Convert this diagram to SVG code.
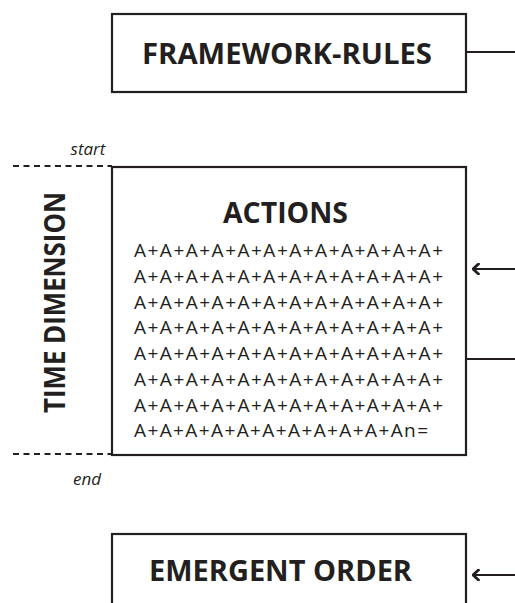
<svg xmlns="http://www.w3.org/2000/svg" width="515" height="603" viewBox="0 0 515 603">
<style>
.box{fill:#fff;stroke:#231f20;stroke-width:2.2}
.conn{fill:none;stroke:#231f20;stroke-width:2.2}
.dash{fill:none;stroke:#231f20;stroke-width:2;stroke-dasharray:6 4.5}
.h{font-family:"Open Sans","Noto Sans",sans-serif;font-weight:bold;fill:#231f20}
.t{font-family:"Open Sans","Noto Sans",sans-serif;font-size:19px;fill:#231f20}
.i{font-family:"Open Sans","Noto Sans",sans-serif;font-style:italic;font-size:17px;fill:#231f20}
</style>
<defs>
<marker id="ah" viewBox="0 0 12 12" refX="10.5" refY="6" markerWidth="12" markerHeight="12" markerUnits="userSpaceOnUse" orient="auto">
<polyline points="5,1 10.5,6 5,11" fill="none" stroke="#231f20" stroke-width="2.8" stroke-linecap="round" stroke-linejoin="round"/>
</marker>
</defs>
<g id="time">
<line class="dash" x1="13" y1="166" x2="112" y2="166"/>
<line class="dash" x1="13" y1="454" x2="112" y2="454"/>
<text class="i" x="88" y="155" text-anchor="middle">start</text>
<text class="i" x="87" y="485" text-anchor="middle">end</text>
<text class="h" font-size="29" transform="translate(65,302.5) rotate(-90)" text-anchor="middle" textLength="221" lengthAdjust="spacingAndGlyphs">TIME DIMENSION</text>
</g>
<g id="framework">
<rect class="box" x="112" y="14" width="354" height="78"/>
<text class="h" font-size="29" x="142" y="64" textLength="290" lengthAdjust="spacingAndGlyphs">FRAMEWORK-RULES</text>
</g>
<g id="actions">
<rect class="box" x="112" y="167" width="354" height="288"/>
<text class="h" font-size="28" x="223" y="223" textLength="125" lengthAdjust="spacingAndGlyphs">ACTIONS</text>
<text class="t" x="134" y="257" textLength="309" lengthAdjust="spacing">A+A+A+A+A+A+A+A+A+A+A+A+</text>
<text class="t" x="134" y="283" textLength="309" lengthAdjust="spacing">A+A+A+A+A+A+A+A+A+A+A+A+</text>
<text class="t" x="134" y="309" textLength="309" lengthAdjust="spacing">A+A+A+A+A+A+A+A+A+A+A+A+</text>
<text class="t" x="134" y="334" textLength="309" lengthAdjust="spacing">A+A+A+A+A+A+A+A+A+A+A+A+</text>
<text class="t" x="134" y="360" textLength="309" lengthAdjust="spacing">A+A+A+A+A+A+A+A+A+A+A+A+</text>
<text class="t" x="134" y="386" textLength="309" lengthAdjust="spacing">A+A+A+A+A+A+A+A+A+A+A+A+</text>
<text class="t" x="134" y="412" textLength="309" lengthAdjust="spacing">A+A+A+A+A+A+A+A+A+A+A+A+</text>
<text class="t" x="134" y="437" textLength="294" lengthAdjust="spacing">A+A+A+A+A+A+A+A+A+A+An=</text>
</g>
<g id="emergent">
<rect class="box" x="112" y="534" width="354" height="80"/>
<text class="h" font-size="29" x="149" y="581" textLength="263" lengthAdjust="spacingAndGlyphs">EMERGENT ORDER</text>
</g>
<g id="connectors">
<line class="conn" x1="515" y1="52" x2="466" y2="52"/>
<line class="conn" x1="515" y1="269" x2="473" y2="269" marker-end="url(#ah)"/>
<line class="conn" x1="515" y1="359" x2="466" y2="359"/>
<line class="conn" x1="515" y1="575" x2="473" y2="575" marker-end="url(#ah)"/>
</g>
</svg>
